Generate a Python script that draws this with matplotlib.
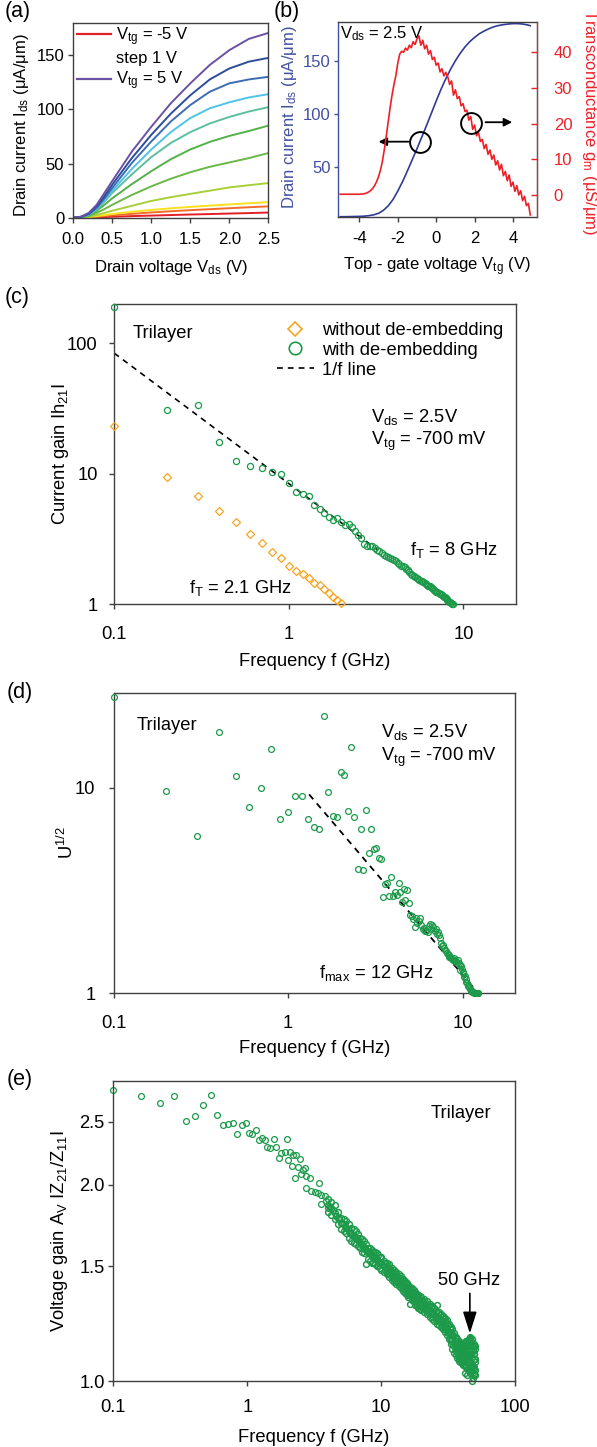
import numpy as np
import matplotlib
matplotlib.use("Agg")
import matplotlib.pyplot as plt
from matplotlib.lines import Line2D
from matplotlib.ticker import NullLocator

plt.rcParams["font.family"] = ["Liberation Sans", "DejaVu Sans"]
plt.rcParams["mathtext.fontset"] = "custom"
plt.rcParams["mathtext.rm"] = "Liberation Sans"
plt.rcParams["mathtext.it"] = "Liberation Sans:italic"
plt.rcParams["mathtext.default"] = "regular"
plt.rcParams["axes.unicode_minus"] = False

# ── (a) output curves, Vtg = -5 ... 5 V ──
vds = [0, 0.1, 0.2, 0.3, 0.4, 0.5, 0.75, 1.0, 1.25, 1.5, 1.75, 2.0, 2.25, 2.5]
ids_m5 = [0, 0.05, 0.15, 0.4, 0.65, 0.9, 1.5, 2.0, 2.5, 3.0, 3.4, 3.9, 4.3, 4.8]
ids_m4 = [0, 0.1, 0.4, 1.0, 1.6, 2.2, 3.6, 4.9, 6.0, 7.0, 7.9, 8.8, 9.7, 10.5]
ids_m3 = [0, 0.15, 0.6, 1.5, 2.5, 3.5, 5.5, 7.2, 8.7, 10.0, 11.2, 12.3, 13.4, 14.4]
ids_m2 = [0, 0.3, 1.0, 2.5, 4.5, 6.5, 11.0, 15.5, 19.0, 22.0, 25.0, 28.0, 30.0, 32.0]
ids_m1 = [0, 0.4, 1.7, 4.5, 8.0, 12.0, 21.0, 29.0, 36.0, 42.0, 47.0, 51.0, 55.0, 59.7]
ids_0 = [0, 0.5, 2.3, 6.4, 12.0, 18.0, 31.0, 43.0, 54.0, 63.0, 70.0, 75.5, 80.0, 85.0]
ids_p1 = [0, 0.6, 2.7, 7.6, 15.0, 23.0, 40.0, 56.0, 69.0, 79.0, 87.0, 93.0, 98.0, 102.0]
ids_p2 = [0, 0.7, 3.0, 8.3, 16.5, 25.0, 45.0, 63.0, 79.0, 92.0, 101.0, 106.5, 111.0, 114.0]
ids_p3 = [0, 0.8, 3.3, 9.2, 18.0, 27.5, 50.5, 70.4, 88.8, 104.0, 116.3, 124.0, 127.6, 130.0]
ids_p4 = [0, 0.9, 3.8, 10.7, 20.0, 30.6, 55.0, 76.5, 96.0, 113.0, 127.6, 137.7, 144.0, 147.5]
ids_p5 = [0, 1.0, 4.6, 12.0, 23.0, 34.0, 61.0, 84.0, 105.6, 124.0, 141.0, 154.6, 165.0, 170.5]
curves_a = [ids_m5, ids_m4, ids_m3, ids_m2, ids_m1, ids_0, ids_p1, ids_p2, ids_p3, ids_p4, ids_p5]
colors_a = ["#e41e26", "#f26b2a", "#f9e21c", "#a8cf38", "#6ab845", "#53b04a",
            "#5cbf9c", "#4fc3e8", "#3c6cb4", "#2e4c9c", "#6a51a3"]

# ── (b) transfer curve and transconductance at Vds = 2.5 V ──
vtg_ids = [-5, -4.75, -4.5, -4.25, -4, -3.75, -3.5, -3.25, -3, -2.75, -2.5, -2.25, -2,
           -1.75, -1.5, -1.25, -1, -0.75, -0.5, -0.25, 0, 0.25, 0.5, 0.75, 1, 1.25,
           1.5, 1.75, 2, 2.25, 2.5, 2.75, 3, 3.25, 3.5, 3.75, 4, 4.25, 4.5, 4.75, 4.9]
ids_b = [2.8, 2.8, 2.9, 3.0, 3.1, 3.3, 3.8, 4.6, 6.0, 8.8, 13.0, 19.0, 27.0,
         36.0, 46.0, 56.5, 67.0, 78.0, 89.0, 100.5, 112.0, 123.0, 133.0, 142.0, 150.0, 157.0,
         163.0, 168.0, 172.0, 175.5, 178.0, 180.2, 182.0, 183.2, 184.0, 184.6, 185.0, 185.0,
         184.6, 183.8, 183.0]
vtg_gm = np.round(np.arange(-5.0, 4.95, 0.1), 1)
gm_b = [0.2, 0.2, 0.2, 0.2, 0.2, 0.2, 0.2, 0.2, 0.2, 0.2, 0.2, 0.25, 0.3, 0.4, 0.6,
        0.9, 1.3, 1.9, 2.7, 3.8, 5.2, 7.0, 9.5, 12.8, 16.5, 20.5, 24.5, 28.0, 31.0, 33.5,
        37.0, 39.5, 40.3, 40.0, 41.2, 40.6, 42.0, 41.3, 43.0, 42.2, 43.8, 44.6, 42.0, 43.4,
        41.0, 42.0, 39.5, 40.5, 38.0, 38.6, 36.4, 37.0, 34.5, 35.4, 33.4, 34.4, 33.2, 31.0,
        32.0, 28.0, 29.5, 27.0, 27.6, 25.0, 25.6, 23.4, 23.8, 21.0, 22.0, 18.4, 19.6, 16.6,
        17.6, 15.0, 15.6, 13.0, 14.2, 11.4, 12.6, 10.0, 11.2, 8.4, 9.6, 7.0, 8.6, 5.4, 6.6,
        4.0, 5.6, 2.4, 3.6, 1.0, 2.6, 0.0, 1.2, -1.6, -0.4, -3.0, -2.4, -5.6]

# ── (c) current gain |h21| ──
f_wo = np.round(np.arange(0.1, 2.05, 0.1), 1)
h21_wo = [23.1, 9.4, 6.8, 5.2, 4.25, 3.45, 2.95, 2.5, 2.28, 1.95, 1.80, 1.71, 1.60, 1.45,
          1.41, 1.30, 1.21, 1.14, 1.08, 1.03]
f_w = np.round(np.arange(0.1, 8.75, 0.1), 1)
h21_w = [190, 31, 33.6, 17.5, 12.5, 11.4, 11.1, 10.4, 10.0,
         8.5, 7.3, 6.95, 6.8, 5.8, 5.35, 5.0, 4.7, 4.45, 4.6,
         4.3, 4.05, 4.15, 3.9, 3.62, 3.42, 3.2, 2.9, 2.82, 2.8,
         2.78, 2.7, 2.62, 2.55, 2.46, 2.39, 2.35, 2.3, 2.26, 2.22,
         2.2, 2.14, 2.08, 2.02, 1.98, 1.95, 1.93, 1.88, 1.82, 1.76,
         1.70, 1.68, 1.66, 1.63, 1.60, 1.56, 1.53, 1.52, 1.50, 1.47,
         1.45, 1.43, 1.41, 1.39, 1.37, 1.35, 1.33, 1.31, 1.29, 1.27,
         1.25, 1.235, 1.22, 1.205, 1.19, 1.175, 1.16, 1.145, 1.13, 1.115,
         1.095, 1.08, 1.065, 1.05, 1.035, 1.02, 1.01, 1.0]
line_c_f = [0.1, 3.2]
line_c_h = [84, 2.63]

# ── (d) unilateral power gain U^1/2 ──
f_u = np.round(np.arange(0.1, 12.35, 0.1), 1)
u_half = [27.6, 9.7, 5.84, 18.8, 11.4, 8.1, 10.0, 15.4, 7.1, 7.64,
          9.14, 9.14, 7.1, 6.43, 6.3, 22.5, 9.53, 7.33, 7.2, 12.0,
          11.6, 7.7, 15.9, 7.2, 4.05, 6.3, 3.98, 7.78, 4.8, 6.3,
          5.06, 5.1, 4.58, 4.49, 2.96, 3.4, 3.46, 2.99, 3.67, 2.99,
          3.13, 3.02, 3.44, 3.13, 2.79, 3.21, 2.85, 3.19, 2.76, 2.41,
          2.37, 2.29, 2.11, 2.32, 2.21, 2.25, 2.32, 2.15, 2.05, 2.08,
          2.0, 2.02, 1.99, 2.12, 2.18, 2.05, 2.15, 2.1, 2.0, 2.05,
          1.95, 1.98, 1.92, 1.85, 1.75, 1.7, 1.72, 1.66, 1.62, 1.6,
          1.57, 1.55, 1.53, 1.51, 1.5, 1.49, 1.47, 1.46, 1.48, 1.44,
          1.45, 1.43, 1.41, 1.45, 1.4, 1.37, 1.3, 1.36, 1.32, 1.27,
          1.25, 1.2, 1.22, 1.17, 1.14, 1.12, 1.1, 1.08, 1.07, 1.05,
          1.04, 1.03, 1.02, 1.02, 1.01, 1.005, 1.0, 1.0, 1.0, 1.0,
          1.0, 1.0, 1.0]
line_d_f = [1.32, 11.6]
line_d_u = [9.3, 1.06]

# ── (e) voltage gain |Z21/Z11| ──
fe_s = [0.1, 0.161, 0.225, 0.285, 0.349, 0.409, 0.47, 0.536, 0.597, 0.664, 0.72, 0.787,
        0.84, 0.91, 0.975, 1.03, 1.09, 1.16, 1.23, 1.29, 1.36, 1.41, 1.47, 1.59, 1.65,
        1.74, 1.80, 1.92, 1.97, 2.02, 2.08, 2.15, 2.21, 2.27, 2.33, 2.40, 2.47, 2.54,
        2.62, 2.69, 2.77, 2.77, 2.93, 3.02, 3.2, 3.39, 3.45, 3.53, 3.58, 3.8, 3.9, 4.03]
ae_s = [2.80, 2.74, 2.67, 2.74, 2.51, 2.55, 2.65, 2.75, 2.56, 2.47, 2.48, 2.49,
        2.39, 2.47, 2.49, 2.40, 2.39, 2.43, 2.34, 2.36, 2.34, 2.29, 2.28, 2.35, 2.29,
        2.20, 2.24, 2.25, 2.35, 2.18, 2.25, 2.14, 2.22, 2.05, 2.22, 2.13, 2.19, 2.08,
        2.11, 2.12, 2.06, 1.98, 2.05, 1.96, 1.95, 1.94, 2.01, 1.87, 1.93, 1.92, 1.89, 1.84]
fe_g1 = np.arange(4.0, 10.01, 0.25)
ae_g1_hi = [1.90, 1.88, 1.86, 1.82, 1.78, 1.77, 1.76, 1.74, 1.72, 1.71, 1.70, 1.68, 1.66,
            1.65, 1.64, 1.62, 1.60, 1.60, 1.59, 1.58, 1.58, 1.57, 1.56, 1.55, 1.55]
ae_g1_mid = [1.86, 1.84, 1.81, 1.78, 1.75, 1.74, 1.72, 1.70, 1.68, 1.67, 1.66, 1.645, 1.63,
             1.615, 1.60, 1.59, 1.575, 1.57, 1.56, 1.55, 1.545, 1.54, 1.53, 1.52, 1.515]
ae_g1_lo = [1.82, 1.80, 1.77, 1.74, 1.71, 1.70, 1.69, 1.66, 1.64, 1.63, 1.62, 1.61, 1.60,
            1.58, 1.57, 1.51, 1.54, 1.53, 1.52, 1.52, 1.51, 1.50, 1.50, 1.49, 1.48]
fe_g1b = np.arange(4.125, 9.9, 0.25)
ae_g1b = [1.85, 1.83, 1.79, 1.77, 1.745, 1.73, 1.71, 1.69, 1.675, 1.665, 1.65, 1.64,
          1.62, 1.61, 1.595, 1.585, 1.572, 1.565, 1.555, 1.548, 1.54, 1.535, 1.525, 1.52]
fe_g2 = np.arange(10.5, 19.51, 0.5)
ae_g2_hi = [1.53, 1.52, 1.51, 1.49, 1.48, 1.47, 1.46, 1.45, 1.435, 1.425, 1.415, 1.405,
            1.395, 1.39, 1.38, 1.37, 1.36, 1.355, 1.35]
ae_g2_mid = [1.50, 1.49, 1.475, 1.46, 1.45, 1.44, 1.43, 1.42, 1.405, 1.395, 1.385, 1.375,
             1.37, 1.36, 1.35, 1.34, 1.335, 1.325, 1.32]
ae_g2_lo = [1.47, 1.46, 1.445, 1.43, 1.42, 1.41, 1.40, 1.39, 1.375, 1.365, 1.355, 1.345,
            1.315, 1.33, 1.32, 1.31, 1.305, 1.295, 1.29]
fe_g2b = np.arange(10.75, 19.76, 0.5)
ae_g2b_hi = [1.515, 1.50, 1.485, 1.47, 1.462, 1.45, 1.44, 1.43, 1.415, 1.408, 1.395, 1.39,
             1.38, 1.372, 1.36, 1.352, 1.347, 1.338, 1.333]
ae_g2b_lo = [1.48, 1.465, 1.452, 1.44, 1.43, 1.42, 1.41, 1.398, 1.385, 1.375, 1.365, 1.357,
             1.35, 1.34, 1.33, 1.323, 1.315, 1.307, 1.303]
fe_g3 = np.arange(20.0, 50.1, 1.0)
ae_g3_hi = [1.345, 1.335, 1.325, 1.315, 1.305, 1.295, 1.31, 1.275, 1.265, 1.26, 1.25, 1.24,
            1.225, 1.21, 1.20, 1.185, 1.17, 1.16, 1.15, 1.145, 1.14, 1.14, 1.145, 1.15, 1.15,
            1.155, 1.165, 1.15, 1.14, 1.13, 1.12]
ae_g3_mid = [1.315, 1.305, 1.295, 1.285, 1.275, 1.265, 1.255, 1.25, 1.24, 1.23, 1.22, 1.205,
             1.19, 1.175, 1.16, 1.145, 1.135, 1.125, 1.115, 1.11, 1.105, 1.10, 1.10, 1.10,
             1.10, 1.10, 1.10, 1.10, 1.09, 1.08, 1.07]
ae_g3_lo = [1.285, 1.275, 1.265, 1.255, 1.245, 1.235, 1.225, 1.22, 1.21, 1.20, 1.19, 1.175,
            1.16, 1.14, 1.12, 1.105, 1.095, 1.085, 1.075, 1.07, 1.065, 1.06, 1.055, 1.05,
            1.045, 1.04, 1.04, 1.035, 1.03, 1.025, 1.02]
fe_g3b = np.arange(20.5, 49.6, 1.0)
ae_g3b_hi = [1.328, 1.318, 1.308, 1.298, 1.288, 1.278, 1.27, 1.262, 1.252, 1.243, 1.232,
             1.218, 1.203, 1.19, 1.178, 1.165, 1.152, 1.142, 1.132, 1.128, 1.122, 1.125,
             1.128, 1.13, 1.13, 1.135, 1.14, 1.13, 1.11, 1.10]
ae_g3b_lo = [1.295, 1.285, 1.275, 1.265, 1.255, 1.245, 1.237, 1.23, 1.22, 1.21, 1.198,
             1.183, 1.165, 1.15, 1.135, 1.122, 1.112, 1.102, 1.094, 1.088, 1.082, 1.078,
             1.075, 1.072, 1.07, 1.068, 1.065, 1.06, 1.055, 1.045]
fe_x = [38, 40, 41, 42, 43, 44, 45, 45.5, 46, 47, 47.5, 48, 48.5, 49, 49.5, 50,
        39, 41.5, 42.5, 43.5, 44.5, 46.5, 48, 49, 50, 47, 45, 44, 46, 48.5, 49.5, 50]
ae_x = [1.08, 1.07, 1.13, 1.03, 1.15, 1.02, 1.08, 1.13, 1.17, 1.12, 1.06, 1.0, 1.01, 1.05,
        1.10, 1.13, 1.10, 1.06, 1.12, 1.09, 1.14, 1.05, 1.16, 1.14, 1.08, 1.04, 1.16, 1.12,
        1.03, 1.12, 1.02, 1.04]

GREEN = "#1c9a4a"
ORANGE = "#f7a520"
NAVY = "#2f3c94"
RED = "#ee2027"
SPINE = "#404040"
FS = 12
FS2 = 13.2

W, H = 597, 1447
fig = plt.figure(figsize=(W / 100, H / 100), dpi=100)


def add_axes_px(left, top, right, bottom):
    return fig.add_axes([left / W, 1 - bottom / H, (right - left) / W, (bottom - top) / H])


def style(ax, fs, xpad, ypad):
    for s in ax.spines.values():
        s.set_color(SPINE)
        s.set_linewidth(1.0)
    ax.tick_params(which="both", direction="out", length=3.5, width=1.0,
                   color=SPINE, labelsize=fs, top=False, right=False)
    ax.tick_params(axis="x", pad=xpad)
    ax.tick_params(axis="y", pad=ypad)


def log_axes(ax, xt, xl, yt, yl):
    ax.set_xscale("log")
    ax.set_yscale("log")
    ax.set_xticks(xt)
    ax.set_xticklabels(xl)
    ax.set_yticks(yt)
    ax.set_yticklabels(yl)
    ax.xaxis.set_minor_locator(NullLocator())
    ax.yaxis.set_minor_locator(NullLocator())


# ---------------- (a) ----------------
ax_a = add_axes_px(73.3, 23.3, 268.3, 218.3)
for ids, c in zip(curves_a, colors_a):
    ax_a.plot(vds, ids, color=c, lw=1.4)
ax_a.set_xlim(0, 2.5)
ax_a.set_ylim(-0.5, 179.4)
ax_a.set_xticks([0, 0.5, 1.0, 1.5, 2.0, 2.5])
ax_a.set_xticklabels(["0.0", "0.5", "1.0", "1.5", "2.0", "2.5"])
ax_a.set_yticks([0, 50, 100, 150])
style(ax_a, FS, 6.5, 3)
ax_a.set_xlabel(r"Drain voltage V$_{ds}$ (V)", fontsize=FS, va="baseline")
ax_a.xaxis.set_label_coords(0.5, -0.274)
ax_a.set_ylabel(r"Drain current I$_{ds}$ (μA/μm)", fontsize=FS, va="center")
ax_a.yaxis.set_label_coords(-0.266, 0.48)
handles = [Line2D([], [], color=colors_a[0], lw=1.6),
           Line2D([], [], color="none"),
           Line2D([], [], color=colors_a[-1], lw=1.6)]
ax_a.legend(handles, [r"V$_{tg}$ = -5 V", "step 1 V", r"V$_{tg}$ = 5 V"],
            loc="upper left", bbox_to_anchor=(0.02, 0.99), frameon=False,
            fontsize=FS, handlelength=2.0, handletextpad=0.3, labelspacing=0.2,
            borderpad=0, borderaxespad=0)

# ---------------- (b) ----------------
ax_b = add_axes_px(337.7, 21.7, 537.0, 216.7)
ax_b.plot(vtg_ids, ids_b, color=NAVY, lw=1.2)
ax_b.set_xlim(-5.13, 5.25)
ax_b.set_ylim(2.8, 186.8)
ax_b.set_xticks([-4, -2, 0, 2, 4])
ax_b.set_yticks([50, 100, 150])
style(ax_b, FS, 6.5, 2)
ax_b.tick_params(axis="y", colors="#4150a0", length=3)
ax_b.spines["left"].set_color("#4150a0")
ax_b.set_xlabel(r"Top - gate voltage V$_{tg}$ (V)", fontsize=FS, va="baseline")
ax_b.xaxis.set_label_coords(0.5, -0.273)
ax_b.set_ylabel(r"Drain current I$_{ds}$ (μA/μm)", fontsize=FS, color="#4150a0", va="center")
ax_b.yaxis.set_label_coords(-0.244, 0.51)
ax_b.text(0.012, 0.915, r"V$_{ds}$ = 2.5 V", transform=ax_b.transAxes, fontsize=FS,
          va="baseline", ha="left")

ax_b2 = ax_b.twinx()
ax_b2.plot(vtg_gm, gm_b, color=RED, lw=1.2)
ax_b2.set_ylim(-6.1, 48.6)
ax_b2.set_yticks([0, 10, 20, 30, 40])
for s in ax_b2.spines.values():
    s.set_visible(False)
ax_b2.spines["right"].set_visible(True)
ax_b2.spines["right"].set_color(RED)
ax_b2.tick_params(axis="y", direction="in", length=4, width=1.0, colors=RED,
                  labelsize=FS, pad=12)
ax_b2.set_ylabel(r"Transconductance g$_{m}$ (μS/μm)", fontsize=FS, color=RED,
                 rotation=270, va="center")
ax_b2.yaxis.set_label_coords(1.262, 0.487)

# annotation circles and arrows
ax_b.plot(-0.855, 73.6, "o", ms=15, mfc="none", mec="k", mew=1.4)
ax_b2.plot(1.79, 20.3, "o", ms=15, mfc="none", mec="k", mew=1.4)
arrow = dict(arrowstyle="-|>", color="k", lw=1.3, mutation_scale=12, shrinkA=0, shrinkB=0)
ax_b.annotate("", xy=(-3.0, 73.6), xytext=(-1.43, 73.6), arrowprops=arrow)
ax_b2.annotate("", xy=(3.96, 20.4), xytext=(2.57, 20.4), arrowprops=arrow)

# ---------------- (c) ----------------
ax_c = add_axes_px(114.2, 304.0, 516.0, 604.3)
ax_c.plot(line_c_f, line_c_h, color="k", lw=1.2, dashes=(3.5, 3), zorder=2)
ax_c.plot(f_wo, h21_wo, ls="none", marker="D", ms=3.7, mfc="none", mec=ORANGE,
          mew=0.9, zorder=3, clip_on=False)
ax_c.plot(f_w, h21_w, ls="none", marker="o", ms=4.4, mfc="none", mec=GREEN,
          mew=0.9, zorder=3, clip_on=False)
log_axes(ax_c, [0.1, 1, 10], ["0.1", "1", "10"], [1, 10, 100], ["1", "10", "100"])
ax_c.set_xlim(0.1, 20)
ax_c.set_ylim(1, 200)
style(ax_c, FS2, 12, 8.5)
ax_c.set_xlabel("Frequency f (GHz)", fontsize=FS2, va="baseline")
ax_c.xaxis.set_label_coords(0.5, -0.206)
ax_c.set_ylabel(r"Current gain Ih$_{21}$I", fontsize=FS2, va="center")
ax_c.yaxis.set_label_coords(-0.133, 0.5)
hc = [Line2D([], [], ls="none", marker="D", ms=7.5, mfc="none", mec=ORANGE, mew=1.2),
      Line2D([], [], ls="none", marker="o", ms=9, mfc="none", mec=GREEN, mew=1.2),
      Line2D([], [], color="k", lw=1.2, dashes=(3.5, 3))]
ax_c.legend(hc, ["without de-embedding", "with de-embedding", "1/f line"],
            loc="upper left", bbox_to_anchor=(0.405, 0.94), frameon=False,
            fontsize=FS2, handlelength=2.0, handletextpad=0.45, labelspacing=0.15,
            borderpad=0, borderaxespad=0)
ax_c.text(0.047, 0.886, "Trilayer", transform=ax_c.transAxes, fontsize=FS2, va="baseline")
ax_c.text(0.639, 0.608, r"V$_{ds}$ = 2.5V", transform=ax_c.transAxes, fontsize=FS2,
          va="baseline")
ax_c.text(0.639, 0.530, r"V$_{tg}$ = -700 mV", transform=ax_c.transAxes, fontsize=FS2,
          va="baseline")
ax_c.text(0.735, 0.164, r"f$_{T}$ = 8 GHz", transform=ax_c.transAxes, fontsize=FS2,
          va="baseline")
ax_c.text(0.185, 0.037, r"f$_{T}$ = 2.1 GHz", transform=ax_c.transAxes, fontsize=FS2,
          va="baseline")

# ---------------- (d) ----------------
ax_d = add_axes_px(113.5, 692.7, 515.2, 993.3)
ax_d.plot(line_d_f, line_d_u, color="k", lw=1.3, dashes=(3.5, 3), zorder=2)
ax_d.plot(f_u, u_half, ls="none", marker="o", ms=4.2, mfc="none", mec=GREEN,
          mew=0.9, zorder=3, clip_on=False)
log_axes(ax_d, [0.1, 1, 10], ["0.1", "1", "10"], [1, 10], ["1", "10"])
ax_d.set_xlim(0.1, 20)
ax_d.set_ylim(1, 29.1)
style(ax_d, FS2, 12, 9.5)
ax_d.set_xlabel("Frequency f (GHz)", fontsize=FS2, va="baseline")
ax_d.xaxis.set_label_coords(0.5, -0.2)
ax_d.set_ylabel(r"U$^{1/2}$", fontsize=FS2, va="center")
ax_d.yaxis.set_label_coords(-0.117, 0.5)
ax_d.text(0.057, 0.876, "Trilayer", transform=ax_d.transAxes, fontsize=FS2, va="baseline")
ax_d.text(0.665, 0.854, r"V$_{ds}$ = 2.5V", transform=ax_d.transAxes, fontsize=FS2,
          va="baseline")
ax_d.text(0.665, 0.774, r"V$_{tg}$ = -700 mV", transform=ax_d.transAxes, fontsize=FS2,
          va="baseline")
ax_d.text(0.512, 0.050, r"f$_{max}$ = 12 GHz", transform=ax_d.transAxes, fontsize=FS2,
          va="baseline")

# ---------------- (e) ----------------
ax_e = add_axes_px(113.3, 1080.7, 515.0, 1381.0)
mk = dict(ls="none", marker="o", ms=4.2, mfc="none", mec=GREEN, mew=0.9, clip_on=False)
mk_dense = dict(mk, mew=1.05)
ax_e.plot(fe_s, ae_s, **mk)
for fg, vals in [(fe_g1, ae_g1_hi), (fe_g1, ae_g1_mid), (fe_g1, ae_g1_lo),
                 (fe_g1b, ae_g1b),
                 (fe_g2, ae_g2_hi), (fe_g2, ae_g2_mid), (fe_g2, ae_g2_lo),
                 (fe_g2b, ae_g2b_hi), (fe_g2b, ae_g2b_lo),
                 (fe_g3, ae_g3_hi), (fe_g3, ae_g3_mid), (fe_g3, ae_g3_lo),
                 (fe_g3b, ae_g3b_hi), (fe_g3b, ae_g3b_lo)]:
    ax_e.plot(fg, vals, **mk_dense)
ax_e.plot(fe_x, ae_x, **mk_dense)
log_axes(ax_e, [0.1, 1, 10, 100], ["0.1", "1", "10", "100"],
         [1.0, 1.5, 2.0, 2.5], ["1.0", "1.5", "2.0", "2.5"])
ax_e.set_xlim(0.1, 100)
ax_e.set_ylim(1.0, 2.89)
style(ax_e, FS2, 9.5, 2.7)
ax_e.set_xlabel("Frequency f (GHz)", fontsize=FS2, va="baseline")
ax_e.xaxis.set_label_coords(0.5, -0.202)
ax_e.set_ylabel(r"Voltage gain A$_{V}$ IZ$_{21}$/Z$_{11}$I", fontsize=FS2, va="center")
ax_e.yaxis.set_label_coords(-0.135, 0.5)
ax_e.text(0.789, 0.875, "Trilayer", transform=ax_e.transAxes, fontsize=FS2, va="baseline")
ax_e.text(0.809, 0.320, "50 GHz", transform=ax_e.transAxes, fontsize=FS2, va="baseline")
ax_e.annotate("", xy=(46, 1.183), xytext=(46, 1.363),
              arrowprops=dict(arrowstyle="-|>,head_length=1.1,head_width=0.35",
                              color="k", lw=1.2, mutation_scale=12, shrinkA=0, shrinkB=0),
              zorder=5)

# panel letters
for lbl, x, y in [("(a)", 5, 1), ("(b)", 274, 1), ("(c)", 5, 287),
                  ("(d)", 7, 682), ("(e)", 7, 1069)]:
    fig.text(x / W, 1 - y / H, lbl, fontsize=15.5, va="top", ha="left")

fig.savefig("out.png", dpi=100)
